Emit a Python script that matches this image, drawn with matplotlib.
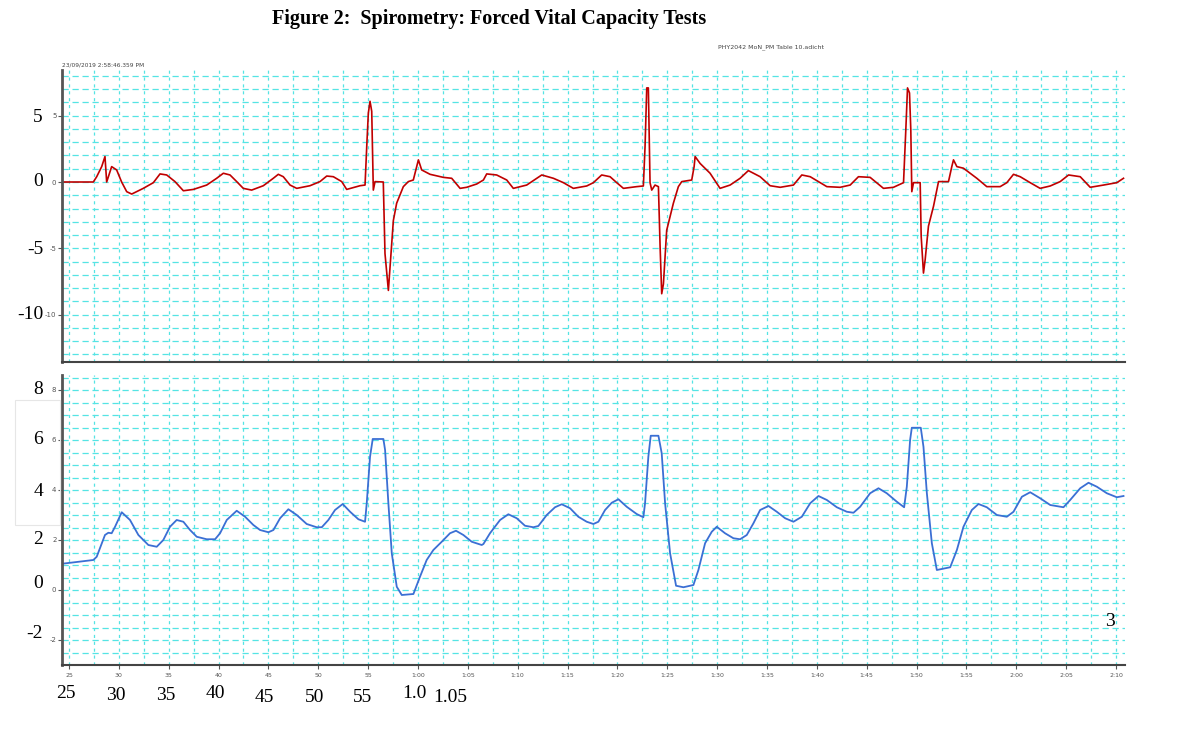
import matplotlib
matplotlib.use("Agg")
import matplotlib.pyplot as plt
from matplotlib.patches import Rectangle
import numpy as np

# ---------------- data ----------------
flow_t = [24.1, 27.44, 27.78, 28.28, 28.61, 28.78, 29.28, 29.78, 30.28, 30.79, 31.29, 32.45,
          33.46, 34.13, 34.80, 35.63, 36.47, 37.47, 38.81, 39.81, 40.48, 41.15, 41.82, 42.48,
          43.32, 44.49, 45.49, 45.99, 46.49, 47.17, 47.84, 49.17, 50.17, 50.85, 51.51, 52.35,
          52.85, 54.19, 54.69, 54.86, 55.02, 55.19, 55.36, 55.52, 55.69, 56.52, 56.69, 57.03,
          57.2, 57.53, 57.86, 58.53, 59.03, 59.53, 59.87, 60.04,
          60.37, 61.21, 62.54, 63.38, 64.22, 64.88, 65.89, 66.56, 66.89, 67.89, 68.9, 69.56,
          70.9, 71.9, 72.41, 73.58, 74.58, 75.58, 76.92, 77.59, 78.42, 79.26, 79.93, 80.6,
          81.93, 82.6, 82.77, 82.94, 83.1, 83.27, 83.44, 83.77, 84.11, 84.28, 84.44, 84.61,
          84.94, 85.61, 86.11, 86.45, 87.45, 87.69, 87.79, 88.29, 89.29, 90.29, 91.3, 92.3,
          93.13, 93.97,
          94.31, 95.31, 96.32, 97.65, 98.49, 99.33, 101.0, 102.33, 103.34, 104.17, 105.34,
          106.68, 107.68, 108.69, 108.92, 109.09, 109.29, 109.42, 109.52, 109.69, 110.36,
          110.46, 110.69, 110.86, 111.19, 111.7, 112.2, 113.2, 113.53, 113.7, 114.04, 114.7,
          116.04, 117.04, 118.38, 119.05, 119.72, 120.39, 121.39, 122.39, 123.4, 124.4,
          125.24, 126.41, 127.41, 128.75, 130.08, 130.75]
flow = [0.0, 0.0, 0.4, 1.16, 1.92, 0.0, 1.16, 0.91, 0.0, -0.73, -0.91, -0.48,
        -0.05, 0.61, 0.53, 0.03, -0.66, -0.56, -0.23, 0.28, 0.66, 0.53, 0.03, -0.48,
        -0.61, -0.28, 0.28, 0.58, 0.4, -0.23, -0.48, -0.28, 0.03, 0.45, 0.4, 0.03,
        -0.56, -0.28, -0.23, 2.68, 5.2, 6.09, 5.33, -0.61, 0.03, 0.0, -5.4, -8.18,
        -6.4, -2.9, -1.6, -0.35, 0.03, 0.15, 1.16, 1.67,
        0.91, 0.58, 0.35, 0.28, -0.48, -0.4, -0.15, 0.15, 0.61, 0.53, 0.15, -0.48,
        -0.23, 0.28, 0.53, 0.28, -0.05, -0.48, -0.3, -0.05, 0.53, 0.4, -0.05, -0.48,
        -0.35, -0.3, 2.68, 7.1, 7.1, -0.05, -0.61, -0.23, -0.35, -4.9, -8.43, -7.7,
        -3.64, -1.6, -0.35, 0.03, 0.15, 1.16, 1.92, 1.4, 0.66, -0.48, -0.23, 0.28,
        0.86, 0.53,
        0.4, -0.28, -0.4, -0.23, 0.53, 0.4, -0.35, -0.4, -0.23, 0.4, 0.35,
        -0.48, -0.4, -0.05, 3.94, 7.1, 6.72, 3.94, -0.73, -0.05, -0.05,
        -4.09, -6.87, -5.86, -3.33, -1.82, 0.03, 0.03, 1.16, 1.67, 1.16, 1.04,
        0.28, -0.35, -0.35, -0.05, 0.58, 0.4, -0.05, -0.48, -0.3, 0.03,
        0.53, 0.4, -0.4, -0.23, -0.05, 0.28]

vol_t = [24.1, 27.44, 27.78, 28.61, 28.95, 29.28, 29.62, 30.29, 31.12, 31.96, 32.96, 33.8,
         34.46, 35.13, 35.8, 36.47, 37.14, 37.81, 38.81, 39.65, 40.15, 40.82, 41.82, 42.66,
         43.49, 44.16, 45.0, 45.5, 46.17, 47.0, 47.84, 48.84, 49.84, 50.35, 51.01, 51.68,
         52.45, 53.19, 54.02, 54.69, 54.86, 55.19, 55.46, 56.53, 56.7, 57.03, 57.37, 57.87,
         58.37, 59.54,
         60.2, 60.87, 61.54, 62.38, 63.21, 63.81, 64.55, 65.39, 66.39, 66.56, 67.22, 68.23,
         69.06, 69.9, 70.73, 71.57, 72.07, 72.91, 73.74, 74.41, 75.25, 76.08, 76.92, 77.59,
         78.09, 78.76, 79.43, 80.1, 80.93, 81.93, 82.6, 82.77, 83.1, 83.34, 84.11, 84.44,
         84.78, 85.28, 85.88, 86.62, 87.62, 88.12, 88.79, 89.46, 89.96, 90.79, 91.63, 92.3,
         92.97, 93.64,
         94.31, 95.15, 95.98, 96.82, 97.65, 98.49, 99.33, 100.16, 101.0, 102.0, 103.0,
         103.67, 104.34, 105.34, 106.18, 107.01, 108.02, 108.75, 109.02, 109.35, 109.52,
         110.42, 110.69, 111.03, 111.53, 112.03, 113.37, 114.04, 114.7, 115.54, 116.21,
         117.04, 118.05, 119.05, 119.72, 120.56, 121.39, 122.39, 123.4, 124.73, 125.4,
         126.41, 127.24, 128.08, 129.08, 130.08, 130.75]
volume = [1.04, 1.2, 1.33, 2.2, 2.29, 2.27, 2.53, 3.11, 2.8, 2.2, 1.8, 1.73,
          2.0, 2.53, 2.8, 2.73, 2.4, 2.13, 2.03, 2.03, 2.27, 2.8, 3.17, 2.93,
          2.6, 2.4, 2.31, 2.4, 2.87, 3.23, 3.0, 2.64, 2.51, 2.51, 2.8, 3.2,
          3.44, 3.13, 2.83, 2.73, 3.47, 5.33, 6.04, 6.04, 5.6, 3.47, 1.47, 0.13,
          -0.2, -0.16,
          0.53, 1.2, 1.6, 1.93, 2.27, 2.37, 2.2, 1.93, 1.8, 1.84, 2.27, 2.8,
          3.03, 2.87, 2.57, 2.51, 2.56, 3.0, 3.31, 3.43, 3.27, 2.93, 2.73, 2.64,
          2.73, 3.2, 3.49, 3.63, 3.33, 3.04, 2.91, 3.47, 5.33, 6.17, 6.17, 5.47,
          3.47, 1.47, 0.17, 0.11, 0.2, 0.8, 1.87, 2.33, 2.53, 2.27, 2.07, 2.03,
          2.2, 2.67,
          3.2, 3.36, 3.13, 2.87, 2.73, 2.93, 3.47, 3.76, 3.6, 3.31, 3.13,
          3.09, 3.33, 3.87, 4.07, 3.87, 3.53, 3.31, 4.13, 6.0, 6.49,
          6.49, 5.73, 3.87, 1.87, 0.8, 0.91, 1.6, 2.53, 3.2, 3.44,
          3.31, 3.0, 2.93, 3.13, 3.73, 3.91, 3.67, 3.4, 3.31, 3.6,
          4.07, 4.29, 4.13, 3.87, 3.71, 3.76]

x_tick_vals = [25, 30, 35, 40, 45, 50, 55, 60, 65, 70, 75, 80, 85, 90, 95, 100,
               105, 110, 115, 120, 125, 130]
x_tick_labels = ['25', '30', '35', '40', '45', '50', '55', '1:00', '1:05', '1:10', '1:15',
                 '1:20', '1:25', '1:30', '1:35', '1:40', '1:45', '1:50', '1:55', '2:00',
                 '2:05', '2:10']
top_y_ticks = [5, 0, -5, -10]
bot_y_ticks = [8, 6, 4, 2, 0, -2]
top_outer_labels = ['5', '0', '-5', '-10']
bot_outer_labels = ['8', '6', '4', '2', '0', '-2']
bottom_outer_labels = ['25', '30', '35', '40', '45', '50', '55', '1.0', '1.05']

title = "Figure 2:  Spirometry: Forced Vital Capacity Tests"
file_label = "PHY2042 MoN_PM Table 10.adicht"
stamp_label = "23/09/2019 2:58:46.359 PM"

# ---------------- figure ----------------
W, H = 1198, 746
fig = plt.figure(figsize=(W / 100, H / 100), dpi=100)
fig.patch.set_facecolor('white')

def fx(px):
    return px / W

def fy(py):
    return 1 - py / H

ax1 = fig.add_axes([fx(62), fy(362), fx(1125) - fx(62), fy(70) - fy(362)])
ax2 = fig.add_axes([fx(62), fy(665), fx(1125) - fx(62), fy(375) - fy(665)])

grid_col = '#55e4e4'
xlim = (24.3, 130.9)

for ax in (ax1, ax2):
    ax.set_xlim(*xlim)
    for s in ('top', 'right'):
        ax.spines[s].set_visible(False)
    ax.spines['left'].set_color('#555555')
    ax.spines['left'].set_linewidth(2.0)
    ax.spines['bottom'].set_color('#444444')
    ax.spines['bottom'].set_linewidth(1.5)
    ax.set_xticks(np.arange(27.5, 131, 5.0), minor=True)
    ax.grid(True, which='both', axis='x', color=grid_col, linestyle=(0, (2.5, 3)),
            linewidth=0.9)
    ax.grid(True, which='both', axis='y', color=grid_col, linestyle=(0, (5, 3)),
            linewidth=0.9)
    ax.tick_params(which='minor', length=0)
    ax.tick_params(axis='y', which='major', labelsize=5, colors='#555555', length=3,
                   width=0.8, pad=1)
    ax.set_axisbelow(True)

# top panel
ax1.set_ylim(-13.58, 8.45)
ax1.set_yticks(top_y_ticks)
ax1.set_yticklabels([str(v) for v in top_y_ticks])
ax1.set_yticks([v for v in range(-13, 9) if v not in top_y_ticks], minor=True)
ax1.set_xticks(x_tick_vals)
ax1.tick_params(axis='x', which='major', length=0, labelbottom=False)
ax1.plot(flow_t, flow, color='#c00000', linewidth=1.2)

# bottom panel
ax2.set_ylim(-3.0, 8.6)
ax2.set_yticks(bot_y_ticks)
ax2.set_yticklabels([str(v) for v in bot_y_ticks])
ax2.set_yticks([v for v in np.arange(-3.0, 8.6, 0.5) if v not in bot_y_ticks], minor=True)
ax2.set_xticks(x_tick_vals)
ax2.set_xticklabels(x_tick_labels)
ax2.tick_params(axis='x', which='major', labelsize=4.5, colors='#555555', length=3,
                width=0.8, pad=3)
ax2.plot(vol_t, volume, color='#3b6fd4', linewidth=1.3)

# ---------------- texts ----------------
serif = 'Liberation Serif'
fig.text(fx(489), fy(19), title, ha='center', va='center', fontsize=14.5,
         fontweight='bold', family=serif)
fig.text(fx(771), fy(47), file_label, ha='center', va='center', fontsize=4.5,
         color='#444444')
fig.text(fx(62), fy(65), stamp_label, ha='left', va='center', fontsize=4.2,
         color='#444444')

top_outer_y = [117, 182, 249, 315]
for lab, py in zip(top_outer_labels, top_outer_y):
    fig.text(fx(43), fy(py), lab, ha='right', va='center', fontsize=14, family=serif)

bot_outer_y = [390, 440, 491, 540, 583, 634]
for lab, py in zip(bot_outer_labels, bot_outer_y):
    fig.text(fx(43), fy(py), lab, ha='right', va='center', fontsize=14, family=serif)

bottom_outer_pos = [(66, 693), (116, 696), (166, 696), (215, 693), (264, 697),
                    (315, 697), (362, 697), (414, 693), (450, 697)]
for lab, (px, py) in zip(bottom_outer_labels, bottom_outer_pos):
    fig.text(fx(px), fy(py), lab, ha='center', va='center', fontsize=14, family=serif)

fig.text(fx(1110), fy(622), '3', ha='center', va='center', fontsize=14, family=serif)

# faint box on the left
fig.patches.append(Rectangle((fx(15), fy(525)), fx(60) - fx(15), fy(400) - fy(525),
                             transform=fig.transFigure, fill=False,
                             edgecolor='#e6e6e6', linewidth=0.8))

fig.savefig('out.png', dpi=100, facecolor='white')
